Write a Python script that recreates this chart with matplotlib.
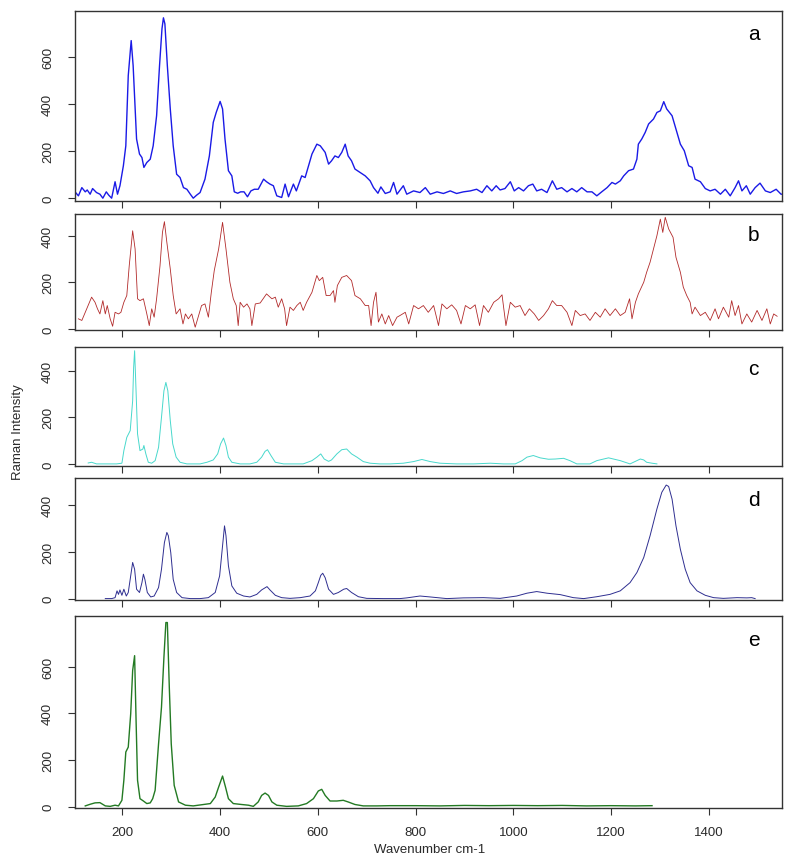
import matplotlib
matplotlib.use("Agg")
import matplotlib.pyplot as plt

plt.rcParams['font.family'] = ['Liberation Sans', 'DejaVu Sans']

# ---------------- data ----------------
a_x = [103, 110, 117, 124, 128, 134, 139, 147, 154, 160, 167, 172, 178, 185, 190, 195, 202, 207, 212, 218,
       222, 229, 235, 240, 244, 250, 257, 263, 270, 276, 281, 284, 287, 292, 298, 304, 311, 318, 325, 332,
       339, 345, 352, 359, 369, 378, 386, 392, 400, 405, 410, 417, 424, 429, 436, 442, 449, 456, 463, 470,
       478, 489, 495, 502, 509, 516, 526, 533, 540, 550, 556, 567, 574, 581, 588, 598, 605, 615, 622, 628,
       635, 642, 649, 656, 662, 669, 676, 687, 697, 707, 714, 723, 729, 738, 748, 755, 762, 775, 782, 796,
       809, 820, 830, 844, 857, 871, 884, 898, 912, 925, 936, 946, 956, 965, 973, 983, 994, 1002, 1011, 1021,
       1031, 1040, 1048, 1058, 1069, 1080, 1089, 1099, 1110, 1120, 1130, 1140, 1151, 1161, 1171, 1181, 1192,
       1202, 1209, 1219, 1226, 1236, 1246, 1253, 1256, 1263, 1270, 1277, 1287, 1294, 1301, 1308, 1314, 1325,
       1333, 1342, 1350, 1359, 1366, 1372, 1383, 1393, 1403, 1413, 1424, 1434, 1444, 1454, 1461, 1468, 1477,
       1485, 1495, 1505, 1516, 1526, 1538, 1548, 1551]
a_y = [27, 10, 45, 27, 35, 17, 41, 24, 17, 0, 27, 13, 0, 70, 17, 53, 138, 223, 522, 671,
       564, 252, 188, 173, 131, 152, 166, 223, 351, 564, 721, 768, 742, 564, 380, 223, 102, 88, 45, 38,
       17, 0, 13, 24, 81, 180, 323, 365, 412, 380, 252, 117, 95, 27, 21, 27, 27, 6, 31, 38,
       38, 81, 70, 60, 53, 10, 3, 60, 6, 60, 31, 95, 88, 138, 188, 230, 223, 195, 145, 159,
       180, 173, 195, 230, 180, 159, 124, 109, 95, 74, 45, 21, 48, 20, 27, 67, 17, 53, 17, 31,
       24, 45, 17, 27, 20, 31, 20, 27, 31, 38, 24, 53, 31, 53, 35, 41, 70, 31, 45, 31,
       53, 60, 31, 38, 24, 74, 38, 45, 27, 41, 27, 45, 27, 27, 10, 27, 45,
       67, 60, 74, 95, 117, 124, 166, 230, 252, 280, 316, 337, 365, 372, 411, 380, 351,
       294, 230, 202, 138, 131, 81, 70, 41, 31, 38, 17, 38, 10, 45, 74, 31, 53,
       17, 45, 64, 31, 24, 38, 17, 17]

b_x = [110, 117, 124, 130, 137, 144, 149, 154, 160, 165, 169, 175, 180, 185, 192, 197, 203, 209, 214, 221,
       226, 231, 236, 243, 250, 255, 260, 265, 270, 277, 282, 286, 291, 298, 304, 310, 318, 324, 329, 335,
       342, 349, 356, 362, 369, 376, 382, 388, 397, 405, 412, 420, 427, 433, 437, 441, 448, 455, 461, 465,
       472, 482, 495, 506, 513, 519, 526, 532, 536, 543, 550, 557, 564, 570, 577, 588, 598, 603, 610, 617,
       625, 632, 635, 640, 649, 659, 669, 676, 687, 697, 704, 709, 714, 719, 724, 731, 738, 745, 753, 762,
       768, 779, 786, 796, 806, 816, 826, 837, 847, 854, 864, 874, 884, 893, 902, 912, 922, 931, 939, 949,
       960, 970, 977, 985, 994, 1004, 1014, 1024, 1033, 1043, 1052, 1062, 1072, 1080, 1089, 1099, 1110, 1120,
       1127, 1137, 1147, 1157, 1168, 1178, 1188, 1198, 1209, 1219, 1229, 1238, 1243, 1250, 1256, 1267, 1273,
       1280, 1287, 1294, 1301, 1306, 1311, 1318, 1327, 1333, 1342, 1348, 1355, 1362, 1366, 1372, 1383, 1393,
       1403, 1413, 1420, 1430, 1441, 1447, 1454, 1461, 1468, 1478, 1488, 1499, 1509, 1519, 1526, 1533, 1540]
b_y = [43, 36, 71, 100, 136, 114, 86, 64, 121, 64, 100, 43, 11, 71, 64, 71, 114, 143, 271, 421,
       343, 129, 121, 129, 64, 14, 86, 50, 129, 271, 414, 460, 371, 257, 143, 64, 86, 21, 64, 43,
       64, 7, 57, 100, 107, 50, 157, 250, 343, 457, 343, 200, 129, 100, 14, 114, 93, 107, 86, 14,
       107, 111, 150, 129, 136, 93, 129, 86, 14, 93, 79, 100, 114, 79, 114, 157, 229, 207, 221, 143,
       143, 164, 114, 186, 221, 229, 207, 143, 129, 100, 100, 14, 114, 157, 29, 64, 21, 57, 14, 50,
       57, 71, 21, 100, 86, 100, 71, 100, 14, 107, 86, 103, 79, 21, 100, 86, 103, 14, 100, 71,
       114, 129, 146, 14, 114, 93, 100, 57, 86, 64, 36, 57, 86, 121, 100, 100, 71, 14,
       79, 57, 64, 36, 71, 50, 86, 57, 86, 57, 71, 129, 43, 114, 150, 200, 243,
       286, 343, 400, 471, 414, 479, 429, 393, 307, 243, 179, 143, 114, 64, 93, 57, 71,
       36, 86, 43, 93, 50, 121, 57, 100, 21, 64, 29, 79, 36, 86, 21, 64, 54]

c_x = [130, 137, 147, 168, 188, 199, 203, 209, 216, 221, 223, 225, 227, 231, 236, 242, 244, 248, 253, 260,
       267, 274, 280, 285, 289, 293, 298, 303, 310, 318, 332, 345, 359, 373, 386, 395, 401, 407, 412, 417,
       424, 441, 461, 475, 485, 492, 497, 504, 513, 530, 550, 570, 588, 598, 606, 613, 622, 628, 639, 649,
       659, 669, 680, 693, 707, 727, 748, 775, 796, 813, 830, 850, 884, 919, 953, 980, 1004, 1018, 1028,
       1041, 1055, 1072, 1086, 1103, 1116, 1130, 1144, 1157, 1171, 1185, 1195, 1205, 1219, 1229, 1239, 1250,
       1260, 1267, 1273, 1284, 1294]
c_y = [4, 7, 0, 0, 0, 3, 57, 114, 143, 271, 414, 486, 371, 129, 57, 64, 79, 43, 7, 3,
       14, 71, 200, 314, 350, 314, 186, 86, 29, 7, 0, 0, 0, 7, 17, 43, 86, 111, 79, 29,
       7, 0, 0, 7, 29, 54, 61, 36, 7, 0, 0, 0, 14, 29, 43, 21, 11, 17, 43, 61,
       64, 43, 29, 10, 3, 0, 0, 3, 10, 19, 10, 3, 0, 0, 3, 0, 0, 14, 29,
       36, 26, 20, 21, 24, 14, 0, 0, 0, 14, 21, 26, 21, 14, 7, 0, 11,
       21, 17, 7, 3, 0]

d_x = [165, 178, 185, 189, 192, 195, 199, 203, 208, 212, 217, 221, 225, 229, 235, 240, 243, 246, 251, 258,
       265, 274, 280, 286, 291, 294, 299, 304, 311, 322, 339, 359, 376, 390, 399, 405, 409, 412, 417, 424,
       434, 448, 461, 475, 485, 496, 502, 513, 526, 543, 564, 584, 595, 601, 606, 610, 615, 622, 632, 642,
       653, 659, 669, 683, 700, 734, 768, 782, 809, 830, 864, 898, 939, 973, 1007, 1028, 1048, 1069, 1096,
       1123, 1144, 1171, 1198, 1219, 1239, 1253, 1267, 1280, 1294, 1304, 1313, 1318, 1325, 1333, 1342, 1352,
       1362, 1376, 1393, 1410, 1430, 1458, 1478, 1488, 1495]
d_y = [0, 0, 4, 33, 18, 37, 14, 40, 11, 26, 97, 154, 125, 40, 26, 68, 104, 82, 26, 7,
       11, 47, 125, 239, 282, 268, 196, 82, 26, 4, 0, 0, 4, 26, 97, 225, 310, 268, 140, 54,
       23, 11, 7, 18, 37, 51, 37, 14, 4, 1, 4, 11, 33, 68, 99, 108, 89, 40, 18, 26,
       40, 43, 26, 8, 1, 0, 0, 3, 11, 7, 0, 3, 4, 1, 11, 23, 30, 23, 17,
       4, 0, 8, 18, 33, 68, 111, 175, 268, 382, 453, 484, 478, 424, 310, 210, 125,
       68, 33, 14, 4, 1, 4, 3, 4, 0]

e_x = [124, 134, 144, 154, 165, 175, 185, 192, 199, 203, 207, 212, 217, 221, 225, 228, 231, 236, 243, 250,
       257, 262, 267, 274, 280, 285, 289, 292, 296, 300, 306, 315, 329, 345, 366, 380, 390, 397, 405, 411,
       417, 427, 444, 458, 468, 478, 485, 492, 499, 506, 516, 536, 560, 577, 591, 601, 608, 615, 625, 639,
       652, 662, 676, 693, 721, 748, 800, 850, 900, 950, 1000, 1050, 1100, 1150, 1200, 1250, 1284]
e_y = [3, 10, 16, 17, 3, 1, 6, 3, 27, 113, 234, 255, 398, 583, 647, 369, 113, 34, 24, 13,
       16, 34, 70, 269, 426, 640, 789, 789, 512, 269, 91, 20, 6, 3, 9, 13, 41, 84, 131, 84,
       34, 13, 9, 6, 1, 20, 48, 58, 48, 20, 6, 1, 3, 13, 34, 67, 74, 48, 24, 24,
       27, 20, 9, 3, 3, 4, 4, 3, 5, 4, 5, 4, 5, 3, 4, 3, 4]

panel_labels = ["a", "b", "c", "d", "e"]
series_x = [a_x, b_x, c_x, d_x, e_x]
series_y = [a_y, b_y, c_y, d_y, e_y]
y_limits = [(-12, 797), (-5, 493), (-9, 502), (-6, 514), (-6, 817)]
y_ticks = [[0, 200, 400, 600], [0, 200, 400], [0, 200, 400], [0, 200, 400], [0, 200, 400, 600]]
x_ticks = [200, 400, 600, 800, 1000, 1200, 1400]
x_limits = (103, 1550)

# ---------------- style ----------------
colors = ["#1a1ae6", "#b22a2a", "#48d8cc", "#2e2e90", "#237a23"]
widths = [1.0, 0.6, 0.7, 0.7, 1.0]
panel_px = [(12, 202), (215, 331), (348, 467), (479, 601), (617, 809)]

W, H = 793, 862
fig = plt.figure(figsize=(W / 100, H / 100), dpi=100)
left, right = 75, 782
frame_col = "#333333"
txt_col = "#2a2a2a"

for i in range(5):
    top, bot = panel_px[i]
    ax = fig.add_axes([left / W, 1 - bot / H, (right - left) / W, (bot - top) / H])
    ax.plot(series_x[i], series_y[i], color=colors[i], lw=widths[i])
    ax.set_xlim(*x_limits)
    ax.set_ylim(*y_limits[i])
    ax.set_xticks(x_ticks)
    ax.set_yticks(y_ticks[i])
    ax.set_yticklabels([str(t) for t in y_ticks[i]], rotation=90, va="center", fontsize=9.5, color=txt_col)
    if i < 4:
        ax.set_xticklabels([])
    else:
        ax.set_xticklabels([str(t) for t in x_ticks], fontsize=9.5, color=txt_col)
    ax.tick_params(axis="x", direction="out", length=5, width=0.8, color=frame_col, pad=8)
    ax.tick_params(axis="y", direction="out", length=5, width=0.8, color=frame_col, pad=10)
    for s in ax.spines.values():
        s.set_color(frame_col)
        s.set_linewidth(1.0)
    ax.text(0.960, 0.88 if i in (0, 4) else 0.82, panel_labels[i], transform=ax.transAxes,
            fontsize=15, ha="center", va="center", color="black")

fig.text(18 / W, 1 - 432 / H, "Raman Intensity", rotation=90, ha="center", va="center",
         fontsize=9.5, color=txt_col)
fig.text(430 / W, 1 - 850 / H, "Wavenumber cm-1", ha="center", va="center", fontsize=9.5, color=txt_col)

fig.savefig("out.png", dpi=100)
